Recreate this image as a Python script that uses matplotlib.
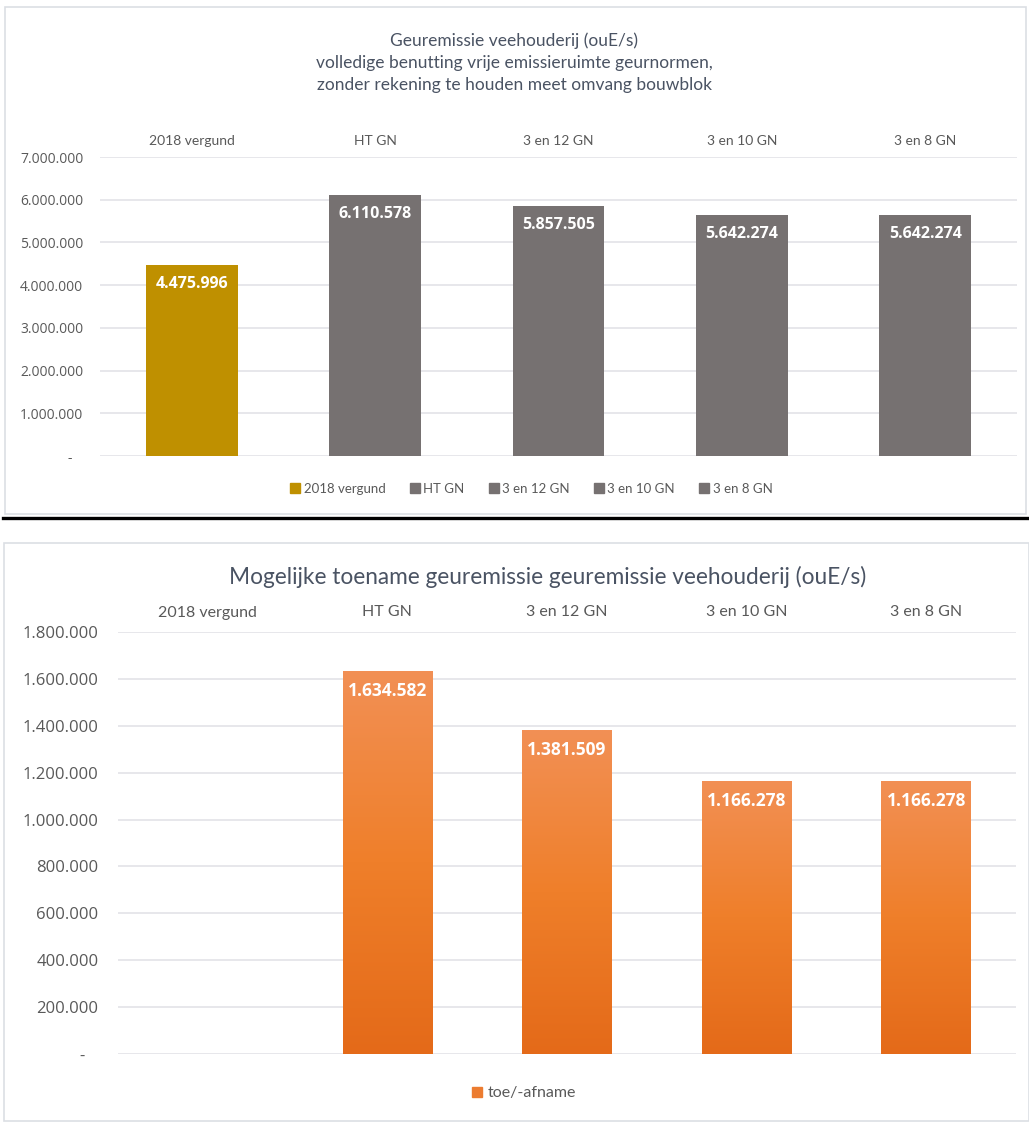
import matplotlib
matplotlib.use("Agg")
import matplotlib.pyplot as plt
import numpy as np
from matplotlib.patches import Rectangle
from matplotlib.lines import Line2D
from matplotlib.colors import LinearSegmentedColormap
from matplotlib.ticker import FuncFormatter, MultipleLocator

categories = ["2018 vergund", "HT GN", "3 en 12 GN", "3 en 10 GN", "3 en 8 GN"]
emissie = [4475996, 6110578, 5857505, 5642274, 5642274]
toename = [0, 1634582, 1381509, 1166278, 1166278]

title_top = ("Geuremissie veehouderij (ouE/s)\n"
             "volledige benutting vrije emissieruimte geurnormen,\n"
             "zonder rekening te houden meet omvang bouwblok")
title_bottom = "Mogelijke toename geuremissie geuremissie veehouderij (ouE/s)"

W, H = 1029, 1122
txt = "#595959"
title_col = "#4a5363"
grid_col = "#e3e3e8"
gold = "#BF9000"
grey = "#767171"

plt.rcParams["font.family"] = ["Open Sans", "DejaVu Sans"]


def fmt(v):
    return f"{int(v):,}".replace(",", ".")


def tick_fmt(v, pos):
    if v == 0:
        return "-   "
    return fmt(v)


def px_rect(x0, y0, x1, y1):
    return [x0 / W, 1 - y1 / H, (x1 - x0) / W, (y1 - y0) / H]


fig = plt.figure(figsize=(W / 100, H / 100), dpi=100)

# panel borders and separator
fig.add_artist(Rectangle((5 / W, 1 - 514 / H), 1021 / W, 507 / H, transform=fig.transFigure,
                         fill=False, edgecolor="#dcdfe4", linewidth=1.2))
fig.add_artist(Rectangle((4 / W, 1 - 1121 / H), 1025 / W, 578 / H, transform=fig.transFigure,
                         fill=False, edgecolor="#dcdfe4", linewidth=1.2))
fig.add_artist(Line2D([3 / W, 1], [1 - 518 / H, 1 - 518 / H], transform=fig.transFigure,
                      color="black", linewidth=2.4))

# ---- top chart
ax1 = fig.add_axes(px_rect(100, 157, 1017, 456))
x = np.arange(len(categories))
colors = [gold] + [grey] * 4
bars1 = ax1.bar(x, emissie, width=0.5, color=colors, zorder=3)
ax1.set_xlim(-0.5, len(categories) - 0.5)
ax1.set_ylim(0, 7000000)
ax1.yaxis.set_major_locator(MultipleLocator(1000000))
ax1.yaxis.set_major_formatter(FuncFormatter(tick_fmt))
ax1.grid(axis="y", color=grid_col, linewidth=1.2, zorder=0)
for s in ax1.spines.values():
    s.set_visible(False)
ax1.tick_params(axis="y", length=0, pad=12, labelsize=10, labelcolor=txt)
ax1.xaxis.tick_top()
ax1.set_xticks(x, categories, fontfamily="Lato", fontsize=10)
ax1.tick_params(axis="x", length=0, pad=7, labelcolor=txt)
for b, v in zip(bars1, emissie):
    ax1.annotate(fmt(v), (b.get_x() + b.get_width() / 2, v), xytext=(0, -14),
                 textcoords="offset points", ha="center", va="center",
                 color="white", fontweight="bold", fontsize=11.5, zorder=5)
fig.text(0.5, 1 - 63 / H, title_top, ha="center", va="center", fontfamily="Lato",
         fontsize=12.5, color=title_col, linespacing=1.45)

handles = [Line2D([], [], marker="s", linestyle="", markersize=6.5, color=c) for c in colors]
fig.legend(handles, categories, loc="center", bbox_to_anchor=(0.515, 1 - 489 / H), ncol=5,
           frameon=False, handletextpad=0.05, columnspacing=1.6, handlelength=1.2,
           prop={"family": "Lato", "size": 9.5}, labelcolor=txt)

# ---- bottom chart
ax2 = fig.add_axes(px_rect(118, 632, 1016, 1054))
bars2 = ax2.bar(x, toename, width=0.5, color="#EC7C30", zorder=3)
cmap = LinearSegmentedColormap.from_list("org", ["#E46A19", "#EF7F2A", "#F29055"])
grad = np.linspace(0, 1, 256).reshape(-1, 1)
for b in bars2:
    if b.get_height() <= 0:
        continue
    im = ax2.imshow(grad, cmap=cmap, origin="lower", aspect="auto", zorder=4,
                    extent=(b.get_x(), b.get_x() + b.get_width(), 0, b.get_height()))
    im.set_clip_path(b)
ax2.set_xlim(-0.5, len(categories) - 0.5)
ax2.set_ylim(0, 1800000)
ax2.yaxis.set_major_locator(MultipleLocator(200000))
ax2.yaxis.set_major_formatter(FuncFormatter(tick_fmt))
ax2.grid(axis="y", color=grid_col, linewidth=1.2, zorder=0)
for s in ax2.spines.values():
    s.set_visible(False)
ax2.tick_params(axis="y", length=0, pad=14, labelsize=12, labelcolor=txt)
ax2.xaxis.tick_top()
ax2.set_xticks(x, categories, fontfamily="Lato", fontsize=11.5)
ax2.tick_params(axis="x", length=0, pad=9, labelcolor=txt)
for b, v in zip(bars2, toename):
    if v <= 0:
        continue
    ax2.annotate(fmt(v), (b.get_x() + b.get_width() / 2, v), xytext=(0, -14.5),
                 textcoords="offset points", ha="center", va="center",
                 color="white", fontweight="bold", fontsize=12.5, zorder=6)
fig.text(548 / W, 1 - 577 / H, title_bottom, ha="center", va="center", fontfamily="Lato",
         fontsize=16.3, color=title_col)
fig.legend([Line2D([], [], marker="s", linestyle="", markersize=7, color="#EC7C30")],
           ["toe/-afname"], loc="center", bbox_to_anchor=(522 / W, 1 - 1093 / H),
           frameon=False, handletextpad=0.05, handlelength=1.2,
           prop={"family": "Lato", "size": 11.5}, labelcolor=txt)

fig.savefig("out.png", dpi=100)
